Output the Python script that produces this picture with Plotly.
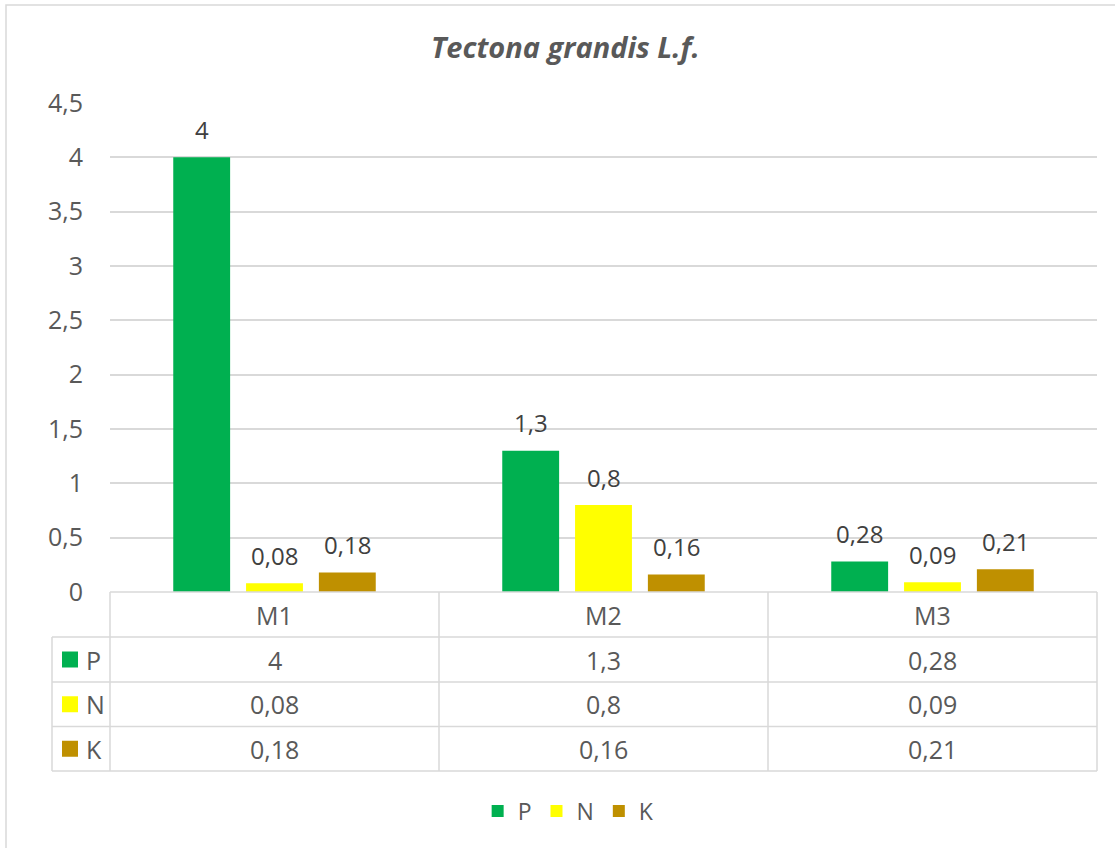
import plotly.graph_objects as go

categories = ["M1", "M2", "M3"]
series_names = ["P", "N", "K"]
P_values = [4, 1.3, 0.28]
N_values = [0.08, 0.8, 0.09]
K_values = [0.18, 0.16, 0.21]
y_ticks = [0, 0.5, 1, 1.5, 2, 2.5, 3, 3.5, 4, 4.5]
title_text = "Tectona grandis L.f."

series_values = [P_values, N_values, K_values]
colors = ["#00B050", "#FFFF00", "#BF9000"]

W, H = 1115, 848
L, R, T, B = 110, 18, 103, 256
PW, PH = W - L - R, H - T - B

def xp(px):
    return (px - L) / PW

def yp(py):
    return (H - B - py) / PH

def fmt(v):
    s = ("%g" % v)
    return s.replace(".", ",")

GRID = "#D9D9D9"
TXT = "#595959"
LBL = "#404040"
FONT = "Open Sans"

bargap = 0.336
bargroupgap = 0.219

fig = go.Figure()
for name, vals, col in zip(series_names, series_values, colors):
    fig.add_trace(go.Bar(
        name=name, x=categories, y=vals,
        marker=dict(color=col, line=dict(width=0)),
        hoverinfo="x+y",
    ))

annotations = []
shapes = []

# data labels above bars
slot = (1 - bargap) / len(series_names)
for j, vals in enumerate(series_values):
    for i, v in enumerate(vals):
        annotations.append(dict(
            x=i + (j - (len(series_names) - 1) / 2) * slot, xref="x",
            y=v, yref="y", text=fmt(v), showarrow=False,
            yanchor="middle", yshift=28,
            font=dict(family=FONT, size=24, color=LBL),
        ))

# data table
row_edges = [592, 637, 682, 726.5, 771]
left_edge = 52
cat_edges = [L + PW * k / 3 for k in range(4)]

for ry in [row_edges[0]]:
    shapes.append(dict(type="line", xref="paper", yref="paper",
                       x0=xp(L), x1=xp(L + PW), y0=yp(ry), y1=yp(ry),
                       line=dict(color=GRID, width=1.5)))
for ry in row_edges[1:]:
    shapes.append(dict(type="line", xref="paper", yref="paper",
                       x0=xp(left_edge), x1=xp(L + PW), y0=yp(ry), y1=yp(ry),
                       line=dict(color=GRID, width=1.5)))
for cx in cat_edges:
    shapes.append(dict(type="line", xref="paper", yref="paper",
                       x0=xp(cx), x1=xp(cx), y0=yp(row_edges[0]), y1=yp(row_edges[-1]),
                       line=dict(color=GRID, width=1.5)))
shapes.append(dict(type="line", xref="paper", yref="paper",
                   x0=xp(left_edge), x1=xp(left_edge), y0=yp(row_edges[1]), y1=yp(row_edges[-1]),
                   line=dict(color=GRID, width=1.5)))

hy = (row_edges[0] + row_edges[1]) / 2
for i, c in enumerate(categories):
    annotations.append(dict(x=i, xref="x", y=yp(hy), yref="paper", text=c,
                            showarrow=False, yanchor="middle",
                            font=dict(family=FONT, size=25, color=TXT)))
for j, (name, vals, col) in enumerate(zip(series_names, series_values, colors)):
    cy = (row_edges[j + 1] + row_edges[j + 2]) / 2
    for i, v in enumerate(vals):
        annotations.append(dict(x=i, xref="x", y=yp(cy), yref="paper", text=fmt(v),
                                showarrow=False, yanchor="middle",
                                font=dict(family=FONT, size=25, color=TXT)))
    shapes.append(dict(type="rect", xref="paper", yref="paper",
                       x0=xp(62), x1=xp(78), y0=yp(cy - 8), y1=yp(cy + 8),
                       fillcolor=col, line=dict(width=0)))
    annotations.append(dict(x=xp(84), xref="paper", y=yp(cy), yref="paper", text=name,
                            showarrow=False, xanchor="left", yanchor="middle",
                            font=dict(family=FONT, size=25, color=TXT)))

# chart border (only top and left visible in the frame)
shapes.append(dict(type="rect", xref="paper", yref="paper",
                   x0=xp(6), x1=xp(W + 50), y0=yp(5), y1=yp(H + 50),
                   line=dict(color=GRID, width=1.5), fillcolor="rgba(0,0,0,0)"))

fig.update_layout(
    width=W, height=H,
    margin=dict(l=L, r=R, t=T, b=B, autoexpand=False),
    paper_bgcolor="white", plot_bgcolor="white",
    separators=",.",
    barmode="group", bargap=bargap, bargroupgap=bargroupgap,
    title=dict(text="<b><i>" + title_text + "</i></b>", x=0.507, xref="container",
               xanchor="center", y=1 - 48 / H, yref="container", yanchor="middle",
               font=dict(family=FONT, size=29, color=TXT)),
    font=dict(family=FONT, size=25, color=TXT),
    xaxis=dict(showticklabels=False, showgrid=False, zeroline=False, showline=False,
               ticks=""),
    yaxis=dict(range=[0, 4.5], tickvals=y_ticks, showgrid=True, gridcolor=GRID,
               gridwidth=1.5, zeroline=False, showline=False, ticks="",
               ticklabelstandoff=26, tickfont=dict(family=FONT, size=25, color=TXT)),
    legend=dict(orientation="h", xref="container", x=0.51, xanchor="center",
                y=yp(811), yanchor="middle", font=dict(family=FONT, size=23, color=TXT),
                traceorder="normal"),
    annotations=annotations, shapes=shapes,
)

fig.write_html("out.html", config={"displayModeBar": False},
               post_script="document.body.style.margin='0';document.body.style.overflow='hidden';")
